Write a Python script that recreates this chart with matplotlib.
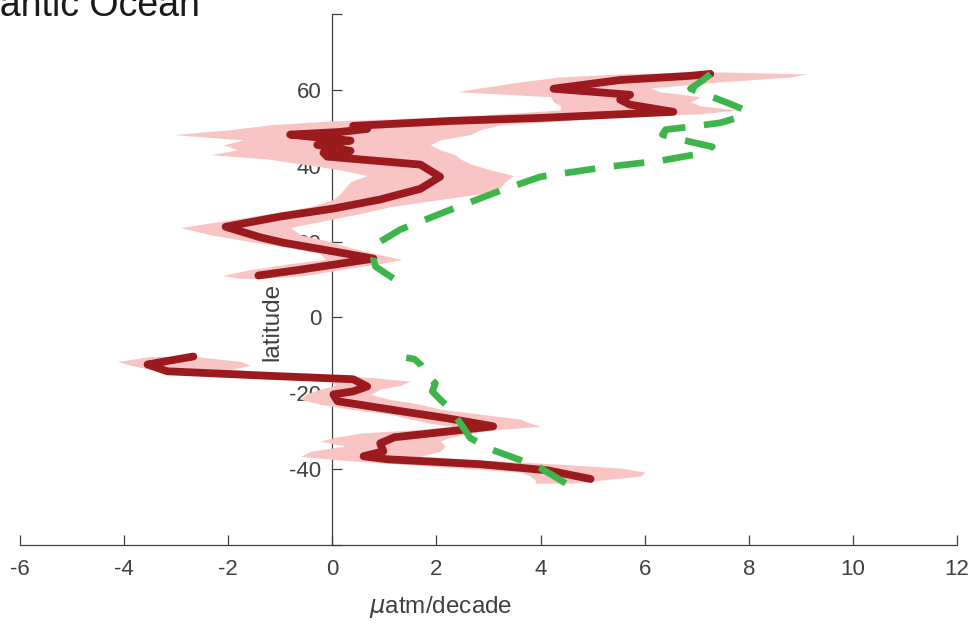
import matplotlib
matplotlib.use("Agg")
import matplotlib.pyplot as plt

plt.rcParams['font.family'] = ['Liberation Sans', 'DejaVu Sans']

# red trend line, northern branch (latitude, uatm/decade)
lat_red_n = [11.05, 12.6, 15.5, 17.1, 19.7, 21.1, 23.9, 26.6, 28.7, 31.1, 33.9, 37.1,
             40.3, 42.4, 43.4, 43.9, 45.5, 46.6, 48.2, 48.9, 49.7, 50.5, 51.8, 52.6,
             54.2, 56.1, 57.4, 58.7, 60.3, 62.6, 63.7, 64.2]
trend_red_n = [-1.42, -0.61, 0.79, 0.15, -0.94, -1.38, -2.05, -1.00, 0.02, 0.92, 1.69, 2.07,
               1.69, -0.10, -0.17, 0.35, -0.29, 0.35, -0.81, 0.15, 0.67, 0.40, 2.27, 4.00,
               6.55, 5.72, 5.53, 5.72, 4.25, 5.53, 6.88, 7.26]

# red trend line, southern branch
lat_red_s = [-42.6, -40.3, -38.7, -37.4, -36.6, -35.3, -33.2, -31.6, -30.0, -28.7, -26.6,
             -24.7, -22.1, -20.3, -19.5, -18.2, -16.3, -15.3, -14.2, -12.4, -10.3]
trend_red_s = [4.96, 4.13, 2.84, 1.06, 0.60, 0.98, 0.92, 1.19, 2.27, 3.09, 2.21,
               1.31, 0.10, 0.02, 0.40, 0.67, 0.40, -1.38, -3.17, -3.55, -2.67]

# uncertainty band, northern branch
band_lat_n = [10.3, 11.05, 12.6, 14.2, 15.3, 16.8, 18.4, 20.0, 21.8, 23.7, 25.3, 27.4,
              29.2, 31.1, 32.6, 34.2, 35.8, 37.4, 38.9, 40.5, 41.8, 42.9, 44.2, 45.5,
              46.8, 48.2, 49.5, 50.8, 51.8, 52.9, 53.7, 54.7, 55.8, 56.8, 58.2, 59.5,
              60.5, 62.1, 63.4, 64.2, 64.7]
band_lo_n = [-1.77, -2.11, -1.58, -0.81, -0.13, -0.23, -0.81, -1.58, -2.34, -2.92, -2.15, -1.19,
             -0.42, 0.02, 0.15, 0.25, 0.35, 0.67, 0.15, -0.61, -1.25, -2.34, -1.82, -2.09,
             -1.71, -3.05, -1.96, -1.19, -0.04, 2.27, 3.23, 4.38, 4.38, 4.25, 4.19, 2.40,
             2.84, 3.61, 4.38, 5.53, 7.07]
band_hi_n = [-1.38, -0.52, 0.15, 0.92, 1.34, 0.83, 0.35, -0.04, -0.61, -0.81, -0.23, 0.54,
             1.11, 2.07, 2.84, 3.23, 3.32, 3.48, 3.03, 2.65, 2.46, 2.36, 2.07, 1.88,
             2.07, 2.65, 2.84, 3.23, 4.38, 5.53, 7.07, 7.78, 7.07, 6.88, 7.07, 6.30,
             6.11, 7.45, 8.80, 9.12, 7.45]

# uncertainty band, southern branch
band_lat_s = [-43.7, -42.9, -41.8, -40.8, -39.7, -38.7, -37.6, -36.6, -35.3, -33.9, -32.6,
              -31.6, -30.5, -29.5, -28.7, -27.9, -26.8, -25.5, -24.2, -22.9, -21.6, -20.3,
              -18.9, -17.9, -16.8, -15.8, -14.7, -13.7, -12.6, -11.6, -10.3]
band_lo_s = [3.90, 3.90, 3.80, 3.61, 2.46, 1.31, 0.15, -0.61, -0.42, 0.25, -0.23,
             0.06, 0.54, 1.69, 2.27, 1.88, 1.50, 1.11, 0.35, -0.23, -0.61, -0.52,
             -0.23, 0.06, -0.04, -0.81, -2.54, -3.50, -3.88, -4.13, -3.50]
band_hi_s = [4.61, 5.15, 5.92, 6.01, 5.53, 4.38, 2.84, 1.69, 2.07, 2.17, 2.07,
             2.27, 2.65, 3.23, 4.00, 3.80, 3.61, 2.84, 2.07, 1.69, 1.11, 0.73,
             0.92, 1.31, 1.50, 0.73, -0.81, -1.96, -1.58, -1.77, -2.63]

# green dashed line, northern branch
lat_grn_n = [10.3, 13.4, 15.3, 19.5, 23.2, 28.4, 33.7, 37.1, 39.7, 41.3, 43.2, 45.0,
             46.3, 48.2, 49.5, 50.3, 51.3, 52.9, 54.7, 56.8, 60.3, 62.1, 64.7]
trend_grn_n = [1.17, 0.83, 0.79, 0.86, 1.31, 2.27, 3.28, 4.00, 5.28, 6.30, 7.07, 7.30,
               6.88, 6.34, 6.40, 6.88, 7.45, 7.84, 7.93, 7.55, 6.88, 7.07, 7.32]

# green dashed line, southern branch
lat_grn_s = [-43.7, -39.7, -37.4, -34.7, -31.8, -27.9, -24.2, -21.6, -19.5, -17.4, -14.7,
             -12.5, -11.0, -10.6]
trend_grn_s = [4.48, 4.00, 3.57, 3.03, 2.65, 2.46, 2.27, 2.07, 1.92, 1.98, 1.79,
               1.70, 1.58, 1.42]

xticks = [-6, -4, -2, 0, 2, 4, 6, 8, 10, 12]
yticks = [-60, -40, -20, 0, 20, 40, 60, 80]
ytick_labels = ['', '-40', '-20', '0', '20', '40', '60', '']

red = '#9b1a1d'
pink = '#f8c4c4'
green = '#3db54a'
grey = '#404040'

fig = plt.figure(figsize=(9.72, 6.3), dpi=100)
ax = fig.add_axes([20 / 972, 1 - 545 / 630, 937 / 972, 531 / 630])

ax.fill_betweenx(band_lat_n, band_lo_n, band_hi_n, color=pink, lw=0, zorder=3)
ax.fill_betweenx(band_lat_s, band_lo_s, band_hi_s, color=pink, lw=0, zorder=3)

for xs, ys in [(trend_red_n, lat_red_n), (trend_red_s, lat_red_s)]:
    ax.plot(xs, ys, color=red, lw=5.6, solid_capstyle='round', solid_joinstyle='round', zorder=4)

for xs, ys in [(trend_grn_n, lat_grn_n), (trend_grn_s, lat_grn_s)]:
    ax.plot(xs, ys, color=green, lw=4.8, dashes=(4.6, 2.8), zorder=5)

ax.set_xlim(-6, 12)
ax.set_ylim(-60, 80)

ax.spines['top'].set_visible(False)
ax.spines['right'].set_visible(False)
ax.spines['left'].set_position(('data', 0))
for s in ['left', 'bottom']:
    ax.spines[s].set_color(grey)
    ax.spines[s].set_linewidth(0.9)

ax.set_xticks(xticks)
ax.set_xticklabels([str(v) for v in xticks])
ax.set_yticks(yticks)
ax.set_yticklabels(ytick_labels)
ax.tick_params(direction='in', length=7, width=0.9, colors=grey, labelsize=16)
ax.tick_params(axis='x', pad=10)
ax.tick_params(axis='y', pad=8)

ax.set_xlabel(r'$\mu$atm/decade', fontsize=17.5, color=grey)
ax.xaxis.set_label_coords(0.449, -0.093)
ax.set_ylabel('latitude', fontsize=17.5, color=grey)
ax.yaxis.set_label_coords(0.281, 0.42)

fig.text(-44 / 972, 1 - 16 / 630, 'Atlantic Ocean', fontsize=27, color='#1a1a1a',
         ha='left', va='baseline')

fig.savefig('out.png', dpi=100)
